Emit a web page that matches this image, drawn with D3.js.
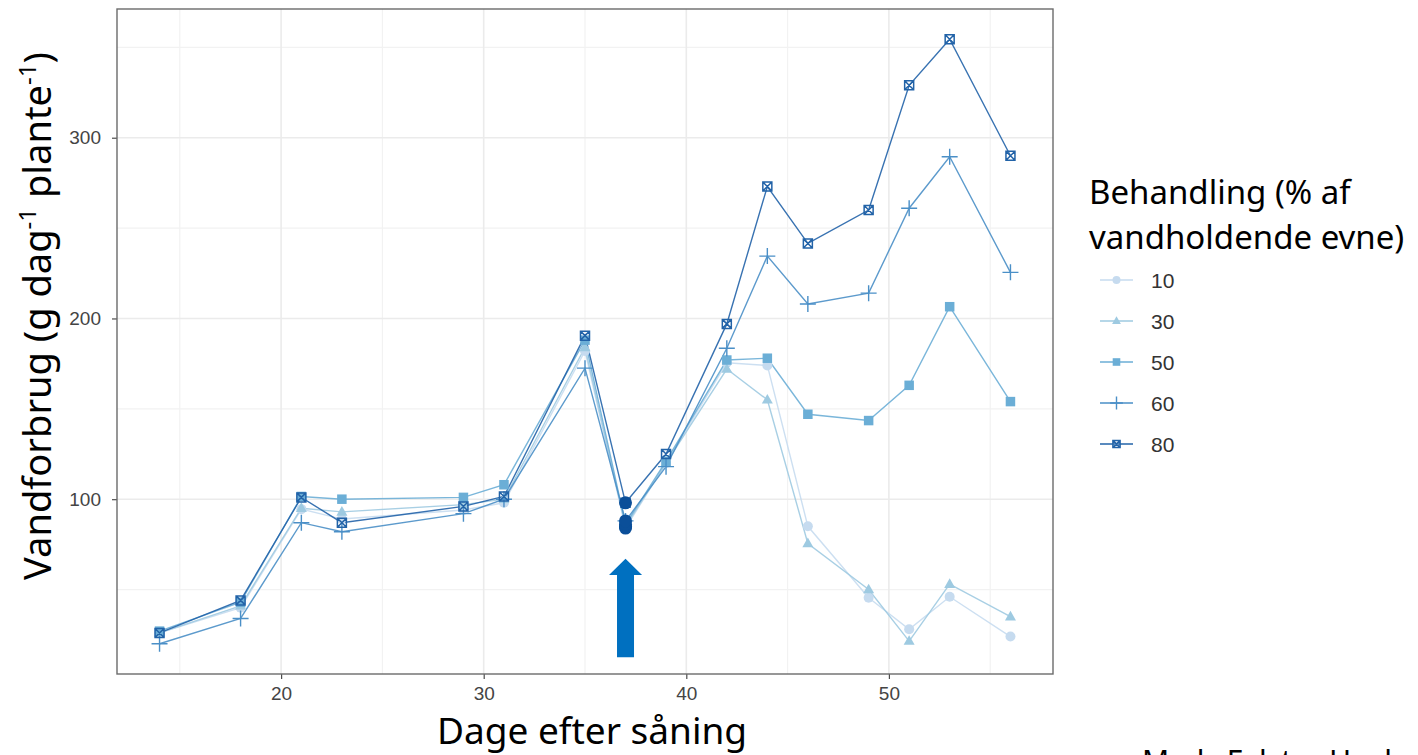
<!DOCTYPE html>
<html>
<head>
<meta charset="utf-8">
<script src="https://cdn.jsdelivr.net/npm/d3@7"></script>
<style>
  html, body { margin: 0; padding: 0; background: #ffffff; overflow: hidden; }
  svg { display: block; }
</style>
</head>
<body>
<svg id="chart" width="1418" height="755"></svg>
<script>
// Days after sowing at which water use was measured
const days = [14, 18, 21, 23, 29, 31, 35, 37, 39, 42, 44, 46, 49, 51, 53, 56];

// Treatments (% of water holding capacity)
const treatments = ["10", "30", "50", "60", "80"];

// Daily water use per plant (g day-1 plant-1) for each treatment
const use10 = [26, 40, 94.5, 89, 94, 98, 182, 84, 120, 175.5, 174, 85, 45.5, 28, 46, 24];
const use30 = [26, 41, 95, 93, 97, 100, 184, 85, 120, 172, 155, 75.5, 50, 21.5, 53, 35];
const use50 = [27, 43, 101.5, 100, 101, 108, 188, 86, 121, 177, 178, 147, 143.5, 163, 206.5, 154];
const use60 = [20, 34, 87, 82, 92, 100, 172.5, 88, 118, 183.5, 234.5, 208, 214, 261, 289.5, 225.5];
const use80 = [26, 44, 101, 87, 96, 101.5, 190.5, 98, 125, 197, 273, 241.5, 260, 329, 354.5, 290];

const xTicks = [20, 30, 40, 50];
const yTicks = [100, 200, 300];
const markedDay = 37;

const seriesValues = [use10, use30, use50, use60, use80];
const colors = ["#c6dbef", "#9ecae1", "#6baed6", "#4a8fc7", "#2263a8"];
const shapes = ["circle", "triangle", "square", "plus", "squarecross"];

const svg = d3.select("#chart");
const panel = { left: 117, right: 1053, top: 9, bottom: 674 };

const allVals = seriesValues.flat();
const xMin = d3.min(days), xMax = d3.max(days);
const yMin = d3.min(allVals), yMax = d3.max(allVals);
const xPad = (xMax - xMin) * 0.05, yPad = (yMax - yMin) * 0.05;

const x = d3.scaleLinear().domain([xMin - xPad, xMax + xPad]).range([panel.left, panel.right]);
const y = d3.scaleLinear().domain([yMin - yPad, yMax + yPad]).range([panel.bottom, panel.top]);

// Grid lines (minor and major)
const grid = svg.append("g");
const xMinor = [15, 25, 35, 45, 55];
const yMinor = [50, 150, 250, 350];
grid.selectAll(".xminor").data(xMinor).join("line")
  .attr("x1", d => x(d)).attr("x2", d => x(d))
  .attr("y1", panel.top).attr("y2", panel.bottom)
  .attr("stroke", "#f2f2f2").attr("stroke-width", 1.2);
grid.selectAll(".yminor").data(yMinor).join("line")
  .attr("y1", d => y(d)).attr("y2", d => y(d))
  .attr("x1", panel.left).attr("x2", panel.right)
  .attr("stroke", "#f2f2f2").attr("stroke-width", 1.2);
grid.selectAll(".xmajor").data(xTicks).join("line")
  .attr("x1", d => x(d)).attr("x2", d => x(d))
  .attr("y1", panel.top).attr("y2", panel.bottom)
  .attr("stroke", "#ebebeb").attr("stroke-width", 1.6);
grid.selectAll(".ymajor").data(yTicks).join("line")
  .attr("y1", d => y(d)).attr("y2", d => y(d))
  .attr("x1", panel.left).attr("x2", panel.right)
  .attr("stroke", "#ebebeb").attr("stroke-width", 1.6);

// Axes
const xAxis = svg.append("g")
  .attr("transform", `translate(0,${panel.bottom})`)
  .call(d3.axisBottom(x).tickValues(xTicks).tickSize(5).tickPadding(8));
const yAxis = svg.append("g")
  .attr("transform", `translate(${panel.left},0)`)
  .call(d3.axisLeft(y).tickValues(yTicks).tickSize(5).tickPadding(11));
[xAxis, yAxis].forEach(a => {
  a.select(".domain").remove();
  a.selectAll("line").attr("stroke", "#4d4d4d").attr("stroke-width", 1.2);
  a.selectAll("text").attr("fill", "#444")
    .style("font-family", "'Liberation Sans', Arial, sans-serif").style("font-size", "19px");
});

// Symbol drawing helpers
function drawSymbol(g, shape, cx, cy, color, s) {
  if (shape === "circle") {
    g.append("circle").attr("cx", cx).attr("cy", cy).attr("r", s * 0.5).attr("fill", color);
  } else if (shape === "triangle") {
    const h = s * 0.95;
    g.append("path").attr("d", `M${cx},${cy - h * 0.62}L${cx + h * 0.58},${cy + h * 0.4}L${cx - h * 0.58},${cy + h * 0.4}Z`).attr("fill", color);
  } else if (shape === "square") {
    const w = s * 0.95;
    g.append("rect").attr("x", cx - w / 2).attr("y", cy - w / 2).attr("width", w).attr("height", w).attr("fill", color);
  } else if (shape === "plus") {
    const a = s * 0.8;
    g.append("path").attr("d", `M${cx - a},${cy}H${cx + a}M${cx},${cy - a}V${cy + a}`)
      .attr("stroke", color).attr("stroke-width", 1.4).attr("fill", "none");
  } else if (shape === "squarecross") {
    const a = s * 0.45;
    g.append("path").attr("d", `M${cx - a},${cy - a}H${cx + a}V${cy + a}H${cx - a}Z M${cx - a},${cy - a}L${cx + a},${cy + a}M${cx + a},${cy - a}L${cx - a},${cy + a}`)
      .attr("stroke", color).attr("stroke-width", 1.5).attr("fill", "none");
  }
}

// Series lines and points
const line = d3.line().x(d => x(d[0])).y(d => y(d[1]));
const plot = svg.append("g");
seriesValues.forEach((vals, i) => {
  const pts = days.map((d, k) => [d, vals[k]]);
  plot.append("path").datum(pts)
    .attr("d", line).attr("fill", "none")
    .attr("stroke", colors[i]).attr("stroke-width", 1.4).attr("stroke-opacity", 0.9);
});
seriesValues.forEach((vals, i) => {
  const g = plot.append("g");
  days.forEach((d, k) => drawSymbol(g, shapes[i], x(d), y(vals[k]), colors[i], 10));
});

// Highlighted measurements on the marked day
const markIdx = days.indexOf(markedDay);
plot.append("g").selectAll("circle").data(seriesValues).join("circle")
  .attr("cx", x(markedDay)).attr("cy", d => y(d[markIdx])).attr("r", 6.5)
  .attr("fill", "#0b4f99");

// Arrow pointing at the marked day
const ax = x(markedDay);
svg.append("path")
  .attr("d", `M${ax - 8.5},${y(12.5)}V${y(58)}H${ax - 16.5}L${ax},${y(67)}L${ax + 16.5},${y(58)}H${ax + 8.5}V${y(12.5)}Z`)
  .attr("fill", "#0070c0");

// Panel border
svg.append("rect")
  .attr("x", panel.left).attr("y", panel.top)
  .attr("width", panel.right - panel.left).attr("height", panel.bottom - panel.top)
  .attr("fill", "none").attr("stroke", "#6b6b6b").attr("stroke-width", 1.4);

// Axis titles
const titleFont = "'Noto Sans', 'Open Sans', sans-serif";
svg.append("text")
  .attr("x", 592).attr("y", 744)
  .attr("text-anchor", "middle")
  .style("font-family", titleFont).style("font-size", "37px").attr("fill", "#000")
  .text("Dage efter såning");

const yTitle = svg.append("text")
  .attr("transform", `translate(51,316) rotate(-90)`)
  .attr("text-anchor", "middle")
  .style("font-family", titleFont).style("font-size", "38px").attr("fill", "#000");
yTitle.append("tspan").text("Vandforbrug (g dag");
yTitle.append("tspan").attr("dy", -15).style("font-size", "24px").text("-1");
yTitle.append("tspan").attr("dy", 15).text(" plante");
yTitle.append("tspan").attr("dy", -15).style("font-size", "24px").text("-1");
yTitle.append("tspan").attr("dy", 15).text(")");

// Legend
const legend = svg.append("g");
legend.append("text").attr("x", 1089).attr("y", 204)
  .style("font-family", titleFont).style("font-size", "33px").attr("fill", "#000")
  .text("Behandling (% af");
legend.append("text").attr("x", 1089).attr("y", 249)
  .style("font-family", titleFont).style("font-size", "33px").attr("fill", "#000")
  .text("vandholdende evne)");
treatments.forEach((t, i) => {
  const cy = 280 + i * 41;
  const g = legend.append("g");
  g.append("line").attr("x1", 1100).attr("x2", 1133).attr("y1", cy).attr("y2", cy)
    .attr("stroke", colors[i]).attr("stroke-width", 1.4);
  drawSymbol(g, shapes[i], 1116.5, cy, colors[i], 8);
  g.append("text").attr("x", 1151).attr("y", cy + 8)
    .style("font-family", "'Liberation Sans', Arial, sans-serif").style("font-size", "21px")
    .attr("fill", "#333").text(t);
});

// Author credit
svg.append("text").attr("x", 1142).attr("y", 772)
  .style("font-family", titleFont).style("font-size", "30px").attr("fill", "#000")
  .text("Mads Falster Husbands");
</script>
</body>
</html>
